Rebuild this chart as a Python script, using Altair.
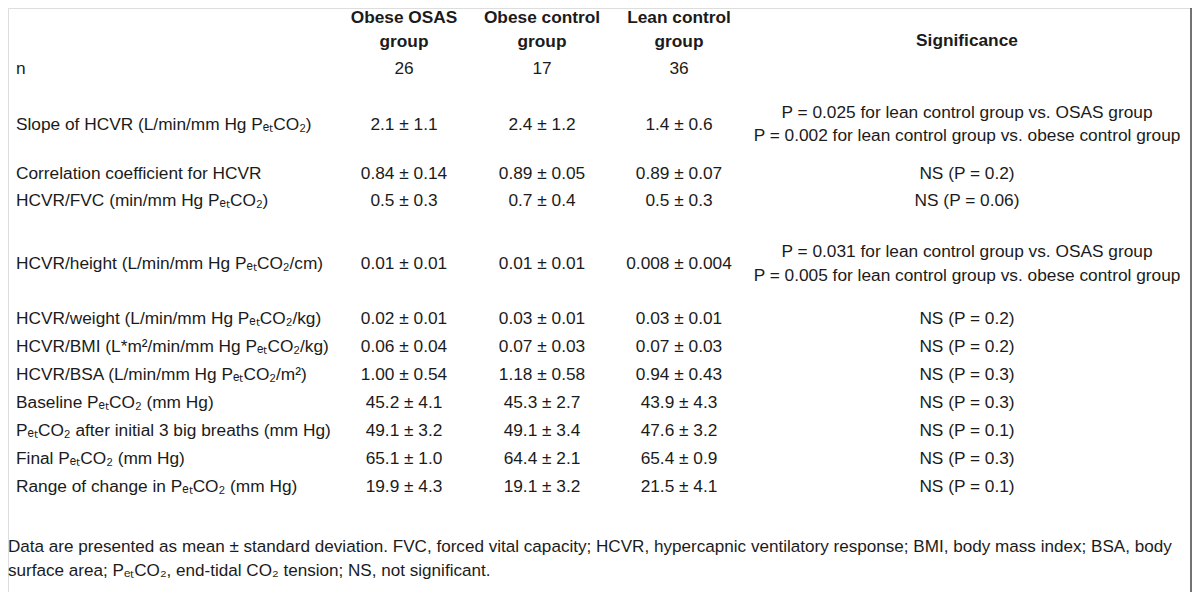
import altair as alt
import pandas as pd

# ---------------- data ----------------
group_headers = ["Obese OSAS\ngroup", "Obese control\ngroup", "Lean control\ngroup"]
sig_header = "Significance"

row_labels = [
    "n",
    "Slope of HCVR (L/min/mm Hg P\u2091\u209cCO\u2082)",
    "Correlation coefficient for HCVR",
    "HCVR/FVC (min/mm Hg P\u2091\u209cCO\u2082)",
    "HCVR/height (L/min/mm Hg P\u2091\u209cCO\u2082/cm)",
    "HCVR/weight (L/min/mm Hg P\u2091\u209cCO\u2082/kg)",
    "HCVR/BMI (L*m\u00b2/min/mm Hg P\u2091\u209cCO\u2082/kg)",
    "HCVR/BSA (L/min/mm Hg P\u2091\u209cCO\u2082/m\u00b2)",
    "Baseline P\u2091\u209cCO\u2082 (mm Hg)",
    "P\u2091\u209cCO\u2082 after initial 3 big breaths (mm Hg)",
    "Final P\u2091\u209cCO\u2082 (mm Hg)",
    "Range of change in P\u2091\u209cCO\u2082 (mm Hg)",
]
obese_osas = ["26", "2.1 \u00b1 1.1", "0.84 \u00b1 0.14", "0.5 \u00b1 0.3", "0.01 \u00b1 0.01",
              "0.02 \u00b1 0.01", "0.06 \u00b1 0.04", "1.00 \u00b1 0.54", "45.2 \u00b1 4.1",
              "49.1 \u00b1 3.2", "65.1 \u00b1 1.0", "19.9 \u00b1 4.3"]
obese_control = ["17", "2.4 \u00b1 1.2", "0.89 \u00b1 0.05", "0.7 \u00b1 0.4", "0.01 \u00b1 0.01",
                 "0.03 \u00b1 0.01", "0.07 \u00b1 0.03", "1.18 \u00b1 0.58", "45.3 \u00b1 2.7",
                 "49.1 \u00b1 3.4", "64.4 \u00b1 2.1", "19.1 \u00b1 3.2"]
lean_control = ["36", "1.4 \u00b1 0.6", "0.89 \u00b1 0.07", "0.5 \u00b1 0.3", "0.008 \u00b1 0.004",
                "0.03 \u00b1 0.01", "0.07 \u00b1 0.03", "0.94 \u00b1 0.43", "43.9 \u00b1 4.3",
                "47.6 \u00b1 3.2", "65.4 \u00b1 0.9", "21.5 \u00b1 4.1"]
significance = [
    "",
    "P = 0.025 for lean control group vs. OSAS group\nP = 0.002 for lean control group vs. obese control group",
    "NS (P = 0.2)",
    "NS (P = 0.06)",
    "P = 0.031 for lean control group vs. OSAS group\nP = 0.005 for lean control group vs. obese control group",
    "NS (P = 0.2)",
    "NS (P = 0.2)",
    "NS (P = 0.3)",
    "NS (P = 0.3)",
    "NS (P = 0.1)",
    "NS (P = 0.3)",
    "NS (P = 0.1)",
]
footnote = [
    "Data are presented as mean \u00b1 standard deviation. FVC, forced vital capacity; HCVR, hypercapnic ventilatory response; BMI, body mass index; BSA, body",
    "surface area; P\u2091\u209cCO\u2082, end-tidal CO\u2082 tension; NS, not significant.",
]

# ---------------- layout ----------------
W, H = 1184, 584
FONT = "Liberation Sans Narrow, Arial Narrow, Liberation Sans, Arial, sans-serif"
FS = 17.3
FS_FOOT = 17.1
LH = 23.5
COLOR = "#1b1b1b"
LABEL_X = 16
COL_X = [404, 542, 679]
SIG_X = 967
HEADER_Y = 30
SIG_HEADER_Y = 41
ROW_Y = [69, 124.5, 174, 201, 264, 319, 347, 375, 403, 431, 459, 487]
FOOT_X = 8
FOOT_Y = [547, 571]


def first_line_y(text, center):
    n = text.count("\n") + 1
    return center - (n - 1) * LH / 2


xs = alt.Scale(domain=[8, 8 + W])
ys = alt.Scale(domain=[8 + H, 8])

labels_df = pd.DataFrame({"t": row_labels, "x": LABEL_X, "y": ROW_Y})
vals = []
for col, xv in zip([obese_osas, obese_control, lean_control], COL_X):
    for t, yv in zip(col, ROW_Y):
        vals.append({"t": t, "x": xv, "y": yv})
for t, yv in zip(significance, ROW_Y):
    vals.append({"t": t, "x": SIG_X, "y": first_line_y(t, yv)})
vals_df = pd.DataFrame(vals)
head_df = pd.DataFrame({
    "t": group_headers + [sig_header],
    "x": COL_X + [SIG_X],
    "y": [first_line_y(t, HEADER_Y) for t in group_headers] + [SIG_HEADER_Y],
})
foot_df = pd.DataFrame({"t": footnote, "x": FOOT_X, "y": FOOT_Y})
border_df = pd.DataFrame({"x": [8 + W - 1], "y": [8], "y2": [8 + H]})


def enc(ch):
    return ch.encode(
        x=alt.X("x:Q", scale=xs, axis=None),
        y=alt.Y("y:Q", scale=ys, axis=None),
        text="t:N",
    )


common = dict(font=FONT, color=COLOR, baseline="middle", lineBreak="\n", lineHeight=LH)

labels = enc(alt.Chart(labels_df).mark_text(align="left", fontSize=FS, **common))
values = enc(alt.Chart(vals_df).mark_text(align="center", fontSize=FS, **common))
headers = enc(alt.Chart(head_df).mark_text(align="center", fontSize=FS, fontWeight="bold", **common))
foot = enc(alt.Chart(foot_df).mark_text(align="left", fontSize=FS_FOOT, **common))
border = alt.Chart(border_df).mark_rule(color="#444444", strokeWidth=1.5).encode(
    x=alt.X("x:Q", scale=xs, axis=None),
    y=alt.Y("y:Q", scale=ys, axis=None),
    y2="y2:Q",
)

chart = alt.layer(labels, values, headers, foot, border).properties(
    width=W, height=H, padding=0, autosize=alt.AutoSizeParams(type="none")
).configure_view(stroke=None).configure(background="white")

chart.save("out.html", embed_options={"renderer": "svg", "actions": False})
